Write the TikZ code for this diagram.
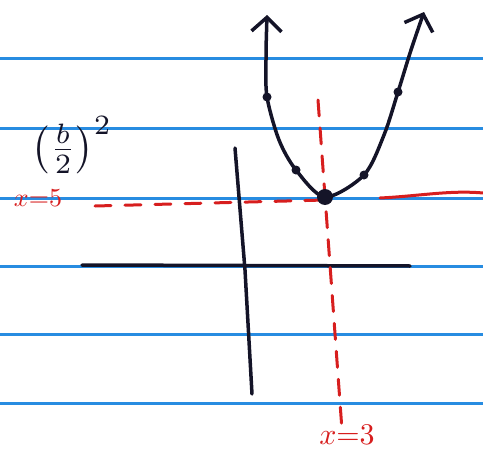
\documentclass[tikz,border=0pt]{standalone}
\usetikzlibrary{arrows.meta}
\definecolor{paperblue}{RGB}{40,140,225}
\definecolor{penred}{RGB}{215,30,30}
\definecolor{penblack}{RGB}{20,20,40}
\begin{document}
\begin{tikzpicture}[x=1pt,y=-1pt,line cap=round,line join=round]
				\useasboundingbox (0,0) rectangle (483,450);
				% ruled lines of the paper
				\foreach \y in {58,128,198,266,334,403}
					\draw[paperblue,line width=3pt] (0,\y) -- (483,\y);
				% axes
				\draw[penblack,line width=3.5pt] (82,265) -- (410,266);
				\draw[penblack,line width=3.5pt] (235,148) -- (245,270) -- (252,394);
				% red guide lines
				\draw[penred,line width=3pt,dash pattern=on 16pt off 12pt] (318,100) -- (342,430);
				\draw[penred,line width=3pt,dash pattern=on 16pt off 14pt] (95,206) -- (325,200);
				\draw[penred,line width=3pt] (380,198) .. controls (420,196) and (450,190) .. (483,193);
				% parabola
				\draw[penblack,line width=3.5pt,{Straight Barb[length=14pt,width=30pt]}-{Straight Barb[length=14pt,width=30pt]}]
					plot[smooth] coordinates {(267,15) (266,60) (267,97) (279,140) (296,170) (325,197) (364,175) (384,135) (398,92) (411,50) (424,12)};
				\fill[penblack] (325,197) circle (8pt);
				\fill[penblack] (267,97) circle (4.5pt);
				\fill[penblack] (296,170) circle (4.5pt);
				\fill[penblack] (364,175) circle (4.5pt);
				\fill[penblack] (398,92) circle (4.5pt);
				% labels
				\node[penblack,scale=4] (sq) at (72,145) {$\left(\frac{b}{2}\right)^{2}$};
				\node[penred,scale=2.6] (hx) at (38,198) {$x{=}5$};
				\node[penred,scale=3] (vx) at (347,435) {$x{=}3$};
			\end{tikzpicture}
\end{document}
